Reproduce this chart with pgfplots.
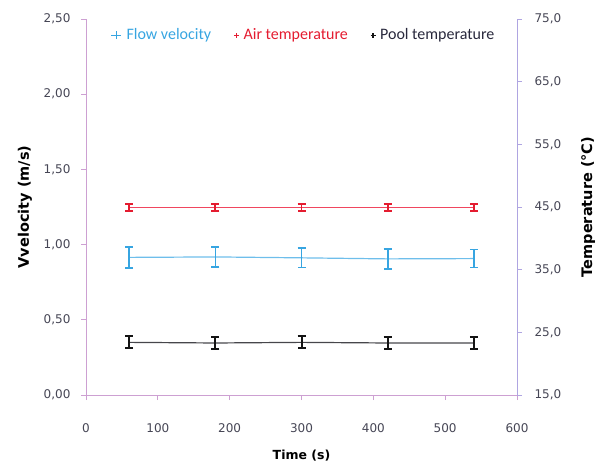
\documentclass[border=0pt]{standalone}
\usepackage{fontspec}
\setmainfont{DejaVu Sans}
\newfontfamily\legfont{Carlito}
\usepackage{pgfplots}
\pgfplotsset{compat=1.18}
\definecolor{flowc}{RGB}{55,165,225}
\definecolor{flowl}{RGB}{110,190,235}
\definecolor{airc}{RGB}{228,28,48}
\definecolor{airl}{RGB}{240,70,95}
\definecolor{poolc}{RGB}{20,20,20}
\definecolor{pooll}{RGB}{70,70,75}
\definecolor{axl}{RGB}{205,160,210}
\definecolor{axr}{RGB}{175,165,225}
\definecolor{tickc}{RGB}{70,70,85}
\definecolor{legpool}{RGB}{40,40,60}

\begin{document}
\begin{tikzpicture}
\pgfplotsset{
  base/.style={
    width=431pt, height=376pt, scale only axis,
    xmin=0, xmax=600, clip=false,
    tick label style={font=\fontsize{12}{14}\selectfont, text=tickc},
    /pgf/number format/assume math mode=true,
    tick align=outside, major tick length=5pt,
    every axis x label/.style={at={(rel axis cs:0.5,0)}, anchor=center, yshift=-61pt},
  },
}
\begin{axis}[base, name=a,
  ymin=0, ymax=2.5, ytick={0,0.5,1,1.5,2,2.5},
  xtick={0,100,200,300,400,500,600},
  axis x line*=bottom, axis y line*=left,
  x axis line style={-, axl, line width=0.8pt},
  y axis line style={-, axl, line width=0.8pt},
  tick style={axl, line width=0.8pt},
  yticklabel style={xshift=-7pt, /pgf/number format/fixed, /pgf/number format/fixed zerofill, /pgf/number format/precision=2, /pgf/number format/use comma},
  xticklabel style={yshift=-20pt},
  every axis y label/.style={at={(rel axis cs:0,0.5)}, anchor=center, xshift=-61pt, rotate=90},
  xlabel={\fontsize{12.5}{14}\selectfont\bfseries Time (s)},
  ylabel={\fontsize{14.5}{16}\selectfont\bfseries Vvelocity (m/s)},
]
\addplot[draw=flowl, color=flowl, line width=1.2pt, mark=none,
  error bars/.cd, y dir=both, y explicit,
  error bar style={flowc, line width=1.6pt},
  error mark options={flowc, rotate=90, mark size=4pt, line width=1.6pt}]
  coordinates {
  (60,0.915) +- (0,0.070)
  (180,0.918) +- (0,0.068)
  (300,0.912) +- (0,0.065)
  (420,0.905) +- (0,0.066)
  (540,0.907) +- (0,0.060)
  };
\end{axis}
\begin{axis}[base,
  ymin=15, ymax=75, ytick={15,25,35,45,55,65,75},
  axis y line*=right, axis x line=none,
  y axis line style={-, axr, line width=0.8pt},
  tick style={axr, line width=0.8pt},
  yticklabel style={xshift=9pt, /pgf/number format/fixed, /pgf/number format/fixed zerofill, /pgf/number format/precision=1, /pgf/number format/use comma},
  every axis y label/.style={at={(rel axis cs:1,0.5)}, anchor=center, xshift=71pt, rotate=90},
  ylabel={\fontsize{14.5}{16}\selectfont\bfseries Temperature (°C)},
  legend columns=3,
  legend style={at={(rel axis cs:0.505,0.957)}, anchor=center, draw=none, fill=none,
    font=\legfont\fontsize{16}{18}\selectfont,
    /tikz/every even column/.append style={column sep=20pt},
    /tikz/every odd column/.append style={column sep=0pt}},
]
\addlegendimage{legend image code/.code={\draw[flowc, line width=0.8pt] (0pt,0pt)--(10pt,0pt) (5pt,-4pt)--(5pt,4pt); \path (13pt,0pt);}}
\addlegendentry[text=flowc]{Flow velocity}
\addplot[draw=airl, color=airl, line width=1.6pt, mark=none,
  legend image code/.code={\draw[airc, line width=1.3pt] (0pt,0pt)--(5pt,0pt) (2.5pt,-2.5pt)--(2.5pt,2.5pt); \path (7pt,0pt);},
  error bars/.cd, y dir=both, y explicit,
  error bar style={airc, line width=1.8pt},
  error mark options={airc, rotate=90, mark size=4pt, line width=1.8pt}]
  coordinates {
  (60,44.9) +- (0,0.6)
  (180,44.9) +- (0,0.6)
  (300,44.9) +- (0,0.6)
  (420,44.9) +- (0,0.6)
  (540,44.9) +- (0,0.6)
  };
\addlegendentry[text=airc]{Air temperature}
\addplot[draw=pooll, color=pooll, line width=1.2pt, mark=none,
  legend image code/.code={\draw[poolc, line width=1.3pt] (0pt,0pt)--(5pt,0pt) (2.5pt,-2.5pt)--(2.5pt,2.5pt); \path (7pt,0pt);},
  error bars/.cd, y dir=both, y explicit,
  error bar style={poolc, line width=2pt},
  error mark options={poolc, rotate=90, mark size=4pt, line width=2pt}]
  coordinates {
  (60,23.4) +- (0,0.95)
  (180,23.3) +- (0,0.95)
  (300,23.4) +- (0,0.95)
  (420,23.3) +- (0,0.95)
  (540,23.3) +- (0,0.95)
  };
\addlegendentry[text=legpool]{Pool temperature}
\end{axis}
\pgfresetboundingbox
\path ([shift={(-86pt,-70pt)}]a.south west) rectangle ([shift={(91pt,19pt)}]a.north east);
\end{tikzpicture}
\end{document}
